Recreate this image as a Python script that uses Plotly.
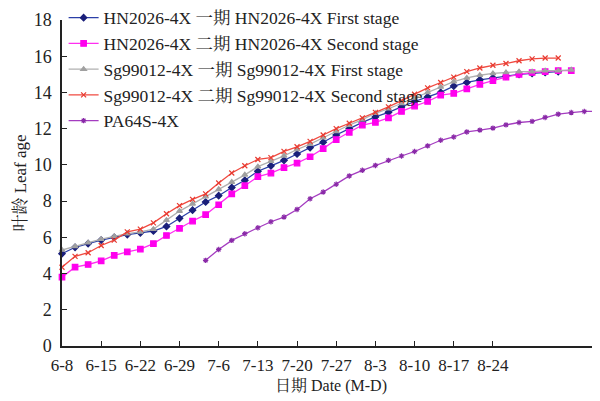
import plotly.graph_objects as go

tick_labels = ["6-8", "6-15", "6-22", "6-29", "7-6", "7-13", "7-20", "7-27",
               "8-3", "8-10", "8-17", "8-24"]
tick_pos = [0, 3, 6, 9, 12, 15, 18, 21, 24, 27, 30, 33]

hn_first = [5.1, 5.45, 5.65, 5.85, 6.0, 6.15, 6.25, 6.35, 6.6, 7.05, 7.5, 7.95, 8.3,
            8.75, 9.15, 9.65, 9.95, 10.25, 10.6, 10.95, 11.25, 11.65, 12.0, 12.35,
            12.65, 12.9, 13.2, 13.5, 13.75, 14.0, 14.35, 14.55, 14.7, 14.8, 14.9,
            15.0, 15.05, 15.1, 15.15]
hn_second = [3.8, 4.35, 4.5, 4.7, 5.0, 5.2, 5.35, 5.65, 6.1, 6.5, 6.9, 7.25, 7.8,
             8.4, 8.85, 9.35, 9.55, 9.85, 10.1, 10.45, 10.9, 11.4, 11.8, 12.2,
             12.35, 12.6, 12.95, 13.25, 13.5, 13.85, 13.95, 14.2, 14.45, 14.65,
             14.85, 15.0, 15.1, 15.15, 15.2, 15.2]
sg_first = [5.3, 5.5, 5.7, 5.9, 6.05, 6.2, 6.3, 6.45, 6.95, 7.45, 7.85, 8.25, 8.65,
            9.05, 9.45, 9.9, 10.2, 10.5, 10.85, 11.15, 11.5, 11.85, 12.2, 12.5,
            12.85, 13.1, 13.4, 13.7, 14.0, 14.3, 14.6, 14.8, 14.95, 15.05, 15.1,
            15.15, 15.15, 15.2, 15.2, 15.25]
sg_second = [4.35, 4.95, 5.15, 5.55, 5.85, 6.3, 6.45, 6.8, 7.3, 7.75, 8.1, 8.4, 9.0,
             9.55, 9.95, 10.3, 10.4, 10.75, 11.0, 11.3, 11.65, 12.0, 12.3, 12.6,
             12.9, 13.2, 13.55, 13.9, 14.25, 14.55, 14.85, 15.15, 15.35, 15.5,
             15.6, 15.75, 15.85, 15.9, 15.9]
pa_start = 11
pa64s = [4.73, 5.33, 5.83, 6.2, 6.53, 6.86, 7.12, 7.54, 8.13, 8.5, 8.93, 9.39, 9.70,
         9.97, 10.25, 10.49, 10.74, 11.05, 11.36, 11.54, 11.82, 11.92, 12.03, 12.21,
         12.34, 12.40, 12.62, 12.80, 12.89, 12.95, 12.95]

FONT = "Liberation Serif, Noto Serif CJK SC, Noto Sans CJK SC, serif"

series = [
    ("HN2026-4X 一期 HN2026-4X First stage", list(range(len(hn_first))), hn_first,
     "#2b3fa8", "#1a1f7a", "diamond", 5),
    ("HN2026-4X 二期 HN2026-4X Second stage", list(range(len(hn_second))), hn_second,
     "#ff2ff0", "#ff00ee", "square", 5.5),
    ("Sg99012-4X 一期 Sg99012-4X First stage", list(range(len(sg_first))), sg_first,
     "#b0b0b0", "#a0a0a0", "triangle-up", 5),
    ("Sg99012-4X 二期 Sg99012-4X Second stage", list(range(len(sg_second))), sg_second,
     "#f04a40", "#e83a30", "x-thin", 5),
    ("PA64S-4X", list(range(pa_start, pa_start + len(pa64s))), pa64s,
     "#a43cc0", "#8a2aa8", "asterisk", 4.5),
]

fig = go.Figure()
for name, xs, ys, lc, mc, sym, ms in series:
    fig.add_trace(go.Scatter(
        x=xs, y=ys, name=name, mode="lines+markers", cliponaxis=False,
        line=dict(color=lc, width=1.3),
        marker=dict(symbol=sym, size=ms, color=mc,
                    line=dict(color=mc, width=1.2)),
    ))

fig.update_layout(
    width=600, height=401,
    margin=dict(l=54, r=8, t=12, b=63, autoexpand=False),
    plot_bgcolor="white", paper_bgcolor="white",
    font=dict(family=FONT, size=16, color="#222"),
    legend=dict(x=0.003, y=1.062, xanchor="left", yanchor="top",
                bgcolor="rgba(0,0,0,0)", font=dict(size=17.5, family=FONT),
                tracegroupgap=0, itemwidth=30),
    showlegend=True,
)
fig.update_xaxes(
    range=[0, 41.2], tickmode="array", tickvals=tick_pos, ticktext=tick_labels,
    ticks="inside", ticklen=5, tickwidth=1.3, tickcolor="#222", automargin=False,
    ticklabelstandoff=3,
    showline=True, linecolor="#222", linewidth=1.5, showgrid=False, zeroline=False,
    tickfont=dict(size=17), title=dict(text="日期 Date (M-D)", font=dict(size=16), standoff=6),
)
fig.update_yaxes(
    range=[0, 18], tickmode="array",
    tickvals=list(range(0, 19, 2)), automargin=False,
    ticks="inside", ticklen=5, tickwidth=1.3, tickcolor="#222",
    ticklabelstandoff=5,
    showline=True, linecolor="#222", linewidth=1.5, showgrid=False, zeroline=False,
    tickfont=dict(size=18), title=dict(text="叶龄 Leaf age", font=dict(size=17), standoff=3),
)

fig.write_html("out.html")
